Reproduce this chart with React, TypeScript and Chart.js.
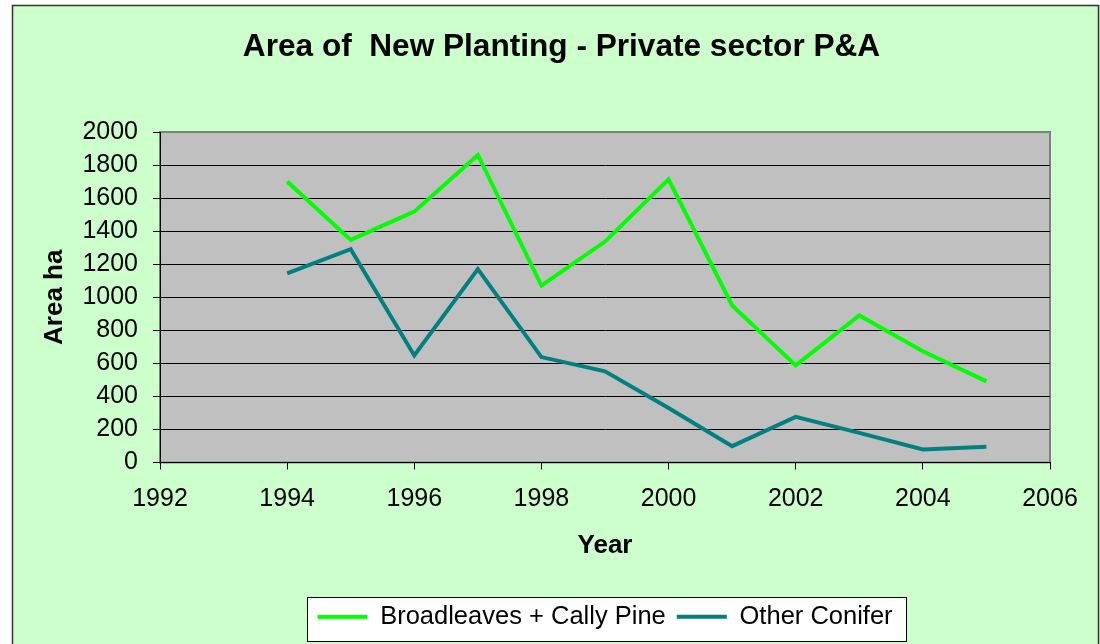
import React, { useEffect, useRef } from "react";
import { Chart, registerables } from "chart.js";

Chart.register(...registerables);

const years = [1994, 1995, 1996, 1997, 1998, 1999, 2000, 2001, 2002, 2003, 2004, 2005];
const broadleaves = [1700, 1347, 1518, 1861, 1071, 1337, 1714, 950, 588, 890, 673, 491];
const otherConifer = [1144, 1291, 648, 1170, 638, 552, 330, 99, 276, 179, 79, 95];
const seriesNames = ["Broadleaves + Cally Pine", "Other Conifer"];
const chartTitle = "Area of  New Planting - Private sector P&A";
const xTitle = "Year";
const yTitle = "Area ha";

const FONT = "'Liberation Sans', Arial, sans-serif";

const backgroundPlugin = {
  id: "bgPlugin",
  beforeDraw(chart: any) {
    const ctx = chart.ctx;
    const W = chart.width;
    const H = chart.height;
    ctx.save();
    ctx.fillStyle = "#ffffff";
    ctx.fillRect(0, 0, W, H);
    ctx.fillStyle = "#CCFFCC";
    ctx.fillRect(12, 5, W - 12, H);
    ctx.strokeStyle = "#333333";
    ctx.lineWidth = 1.5;
    ctx.strokeRect(12.5, 5.5, 1086, H + 20);
    const a = chart.chartArea;
    ctx.fillStyle = "#C0C0C0";
    ctx.fillRect(a.left, a.top, a.right - a.left, a.bottom - a.top);
    ctx.strokeStyle = "#808080";
    ctx.lineWidth = 2;
    ctx.strokeRect(a.left, a.top, a.right - a.left, a.bottom - a.top);
    const lg = chart.legend;
    if (lg && lg.legendHitBoxes && lg.legendHitBoxes.length) {
      const hb = lg.legendHitBoxes;
      const first = hb[0];
      const last = hb[hb.length - 1];
      const l = Math.round(first.left - 10) + 0.5;
      const r = Math.round(last.left + last.width + 13) + 0.5;
      const t = Math.round(first.top - 7.5) + 0.5;
      const b = Math.round(first.top + 36.5) + 0.5;
      ctx.fillStyle = "#ffffff";
      ctx.fillRect(l, t, r - l, b - t);
      ctx.strokeStyle = "#000000";
      ctx.lineWidth = 1;
      ctx.strokeRect(l, t, r - l, b - t);
    }
    ctx.restore();
  },
};

export default function App() {
  const canvasRef = useRef<HTMLCanvasElement | null>(null);

  useEffect(() => {
    const canvas = canvasRef.current;
    if (!canvas) return;
    Chart.defaults.font.family = FONT;
    Chart.defaults.color = "#000000";
    const chart = new Chart(canvas, {
      type: "line",
      data: {
        datasets: [
          {
            label: seriesNames[0],
            data: years.map((y, i) => ({ x: y, y: broadleaves[i] })),
            borderColor: "#00FF00",
            backgroundColor: "#00FF00",
            borderWidth: 4,
            pointRadius: 0,
            tension: 0,
            yAxisID: "y",
          },
          {
            label: seriesNames[1],
            data: years.map((y, i) => ({ x: y, y: otherConifer[i] })),
            borderColor: "#008080",
            backgroundColor: "#008080",
            borderWidth: 4,
            pointRadius: 0,
            tension: 0,
            yAxisID: "y",
          },
        ],
      },
      options: {
        responsive: false,
        animation: false,
        devicePixelRatio: 1,
        layout: { padding: { left: 13, right: -10, top: 0, bottom: 4.5 } },
        plugins: {
          title: {
            display: true,
            text: chartTitle,
            color: "#000",
            font: { family: FONT, size: 31.6, weight: "bold" },
            padding: { top: 28.5, bottom: 65.6 },
          },
          legend: {
            display: true,
            position: "bottom",
            fullSize: false,
            labels: {
              color: "#000",
              font: { family: FONT, size: 25.5 },
              usePointStyle: true,
              pointStyle: "line",
              pointStyleWidth: 50,
              padding: 11,
            },
          },
          tooltip: { enabled: false },
        },
        scales: {
          x: {
            type: "linear",
            position: "bottom",
            min: 1992,
            max: 2006,
            ticks: {
              stepSize: 2,
              color: "#000",
              font: { family: FONT, size: 25 },
              padding: 15,
              maxRotation: 0,
              callback: (v: any) => String(v),
            },
            grid: {
              drawOnChartArea: false,
              drawTicks: true,
              tickLength: 7,
              color: "#000",
              tickColor: "#000",
            },
            border: { display: true, color: "#000", width: 1 },
            title: {
              display: true,
              text: xTitle,
              color: "#000",
              font: { family: FONT, size: 26, weight: "bold" },
              padding: { top: 0, bottom: 31.6 },
            },
            afterFit: (s: any) => {
              s.height = 130.5;
            },
          },
          y: {
            type: "linear",
            position: "left",
            min: 0,
            max: 2000,
            ticks: {
              stepSize: 200,
              color: "#000",
              font: { family: FONT, size: 25 },
              padding: 15,
              callback: (v: any) => String(v),
            },
            grid: {
              drawTicks: true,
              tickLength: 7,
              lineWidth: 1,
              color: (c: any) => (c.tick && c.tick.value === 2000 ? "#808080" : "#000000"),
              tickColor: "#000",
            },
            border: { display: true, color: "#000", width: 1 },
            title: {
              display: true,
              text: yTitle,
              color: "#000",
              font: { family: FONT, size: 26, weight: "bold" },
              padding: { top: 26.4, bottom: 0 },
            },
            afterFit: (s: any) => {
              s.width = 147;
            },
          },
          r: {
            type: "linear",
            position: "right",
            display: true,
            grid: { display: false, drawTicks: false },
            ticks: { display: false },
            border: { display: false },
            afterFit: (s: any) => {
              s.width = 60;
            },
          },
        },
      },
      plugins: [backgroundPlugin],
    } as any);
    return () => chart.destroy();
  }, []);

  return (
    <div style={{ position: "absolute", left: 0, top: 0, width: 1100, height: 644, background: "#fff" }}>
      <canvas ref={canvasRef} width={1100} height={644} style={{ display: "block", width: 1100, height: 644 }} />
    </div>
  );
}
